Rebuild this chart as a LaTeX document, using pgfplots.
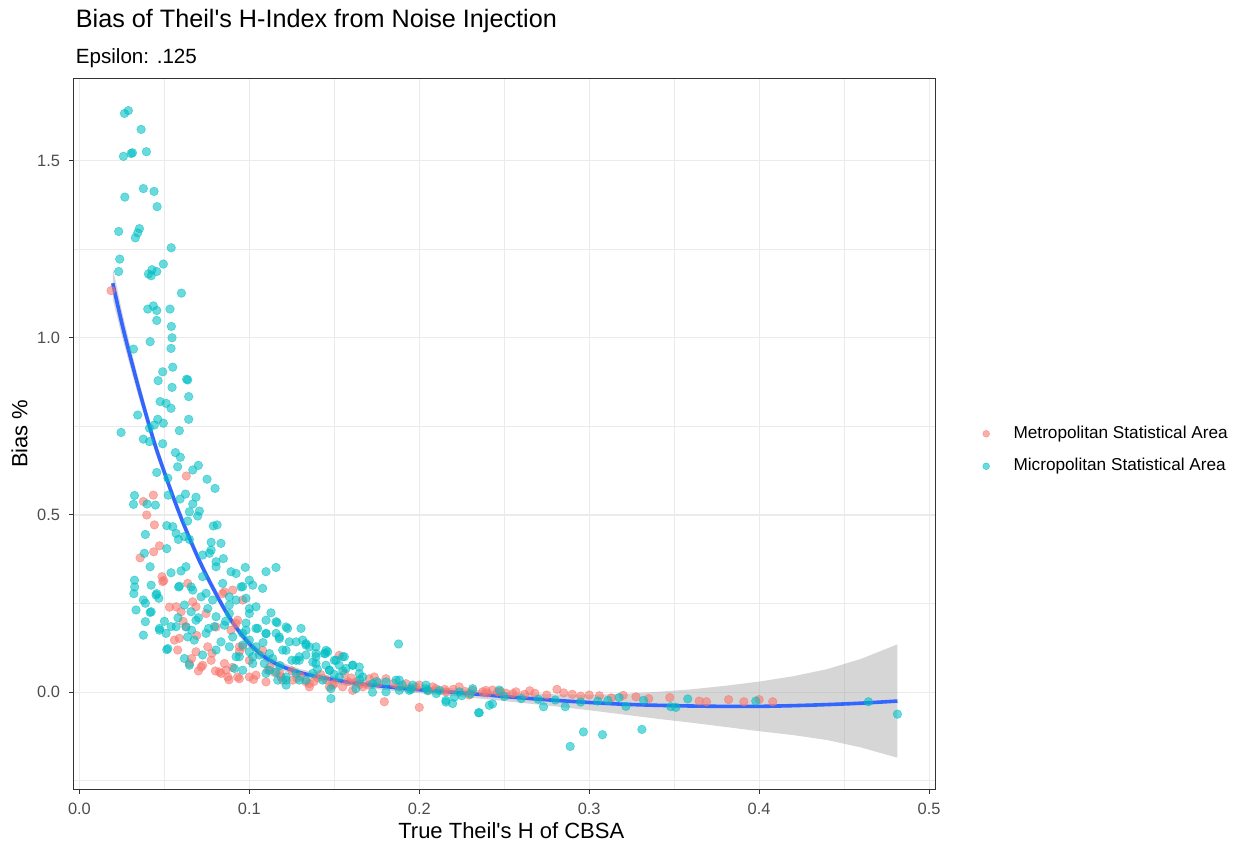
\documentclass[border=0pt]{standalone}
\usepackage{fontspec}
\setmainfont{Liberation Sans}[Ligatures=TeXOff]
\usepackage{pgfplots}
\pgfplotsset{compat=1.18}
\usepackage{pgfplotstable}
\definecolor{metro}{HTML}{F8766D}
\definecolor{micro}{HTML}{00BFC4}
\definecolor{smoothc}{HTML}{3366FF}
\definecolor{gridc}{HTML}{EBEBEB}
\definecolor{tickc}{HTML}{4D4D4D}
\definecolor{borderc}{HTML}{333333}

\pgfplotstableread{
x y
0.0186 1.133
0.0629 0.610
0.0376 0.538
0.0435 0.556
0.0396 0.500
0.0441 0.472
0.0471 0.413
0.0437 0.396
0.0357 0.379
0.0486 0.326
0.0496 0.315
0.0637 0.307
0.0490 0.312
0.0569 0.241
0.0598 0.227
0.0667 0.255
0.0627 0.185
0.0559 0.147
0.0578 0.119
0.0686 0.114
0.0716 0.071
0.0647 0.081
0.0833 0.053
0.0873 0.043
0.0931 0.043
0.0941 0.128
0.1000 0.043
0.1039 0.048
0.1108 0.062
0.1186 0.043
0.1255 0.034
0.1353 0.024
0.1500 0.024
0.1559 0.053
0.0941 0.114
0.0892 0.175
0.0755 0.128
0.0853 0.081
0.0775 0.090
0.0588 0.152
0.0660 0.095
0.0700 0.060
0.0824 0.057
0.0863 0.062
0.0961 0.260
0.0902 0.288
0.0843 0.278
0.0745 0.222
0.0686 0.241
0.0922 0.194
0.0804 0.184
0.0853 0.283
0.0931 0.203
0.0880 0.035
0.0941 0.038
0.1025 0.036
0.1098 0.029
0.1196 0.034
0.1333 0.029
0.1353 0.015
0.1490 0.020
0.1549 0.015
0.1627 0.029
0.1706 0.038
0.1804 0.038
0.1922 0.024
0.2000 0.020
0.2078 0.015
0.2235 0.015
0.2314 0.005
0.2392 0.005
0.2461 0.001
0.1000 0.090
0.1078 0.118
0.0961 0.128
0.0725 0.076
0.1529 0.104
0.1735 0.043
0.1794 -0.027
0.2000 -0.043
0.1882 0.015
0.1980 0.015
0.2098 0.010
0.2157 0.001
0.2294 -0.008
0.2373 0.001
0.2431 0.006
0.2510 -0.003
0.2569 0.001
0.1667 0.015
0.1608 0.005
0.1471 0.015
0.2400 -0.002
0.2480 0.002
0.2550 -0.004
0.2620 -0.006
0.2680 -0.003
0.2750 -0.008
0.2810 0.008
0.2900 -0.006
0.2950 -0.011
0.3000 -0.008
0.3060 -0.010
0.3130 -0.016
0.3200 -0.009
0.3275 -0.013
0.3474 -0.015
0.3647 -0.025
0.3690 -0.027
0.3820 -0.021
0.3910 -0.027
0.4000 -0.021
0.4080 -0.027
0.2650 0.004
0.2850 -0.002
0.3350 -0.018
0.1250 0.060
0.1400 0.040
0.1150 0.055
0.0530 0.240
0.0610 0.200
0.0690 0.160
0.0780 0.110
0.0800 0.060
0.0900 0.070
0.1300 0.045
0.1450 0.035
0.1600 0.040
0.1700 0.020
0.1850 0.025
0.2200 0.008
0.1120 0.070
0.1180 0.052
0.1280 0.040
0.1380 0.030
0.1420 0.050
0.1580 0.030
0.1650 0.022
0.1760 0.026
0.1950 0.012
0.2050 0.006
0.2150 0.008
0.2270 0.002
}\metrotab

\pgfplotstableread{
x y
0.0265 1.633
0.0288 1.641
0.0363 1.588
0.0259 1.512
0.0304 1.520
0.0312 1.522
0.0394 1.525
0.0376 1.421
0.0439 1.413
0.0267 1.397
0.0457 1.370
0.0231 1.300
0.0353 1.308
0.0343 1.296
0.0329 1.282
0.0540 1.254
0.0237 1.222
0.0231 1.187
0.0494 1.208
0.0406 1.180
0.0427 1.192
0.0455 1.187
0.0422 1.175
0.0600 1.126
0.0402 1.081
0.0435 1.090
0.0455 1.077
0.0533 1.081
0.0455 1.049
0.0541 1.032
0.0545 1.000
0.0318 0.968
0.0416 0.989
0.0539 0.970
0.0549 0.917
0.0490 0.904
0.0631 0.883
0.0463 0.879
0.0545 0.860
0.0637 0.881
0.0643 0.834
0.0475 0.820
0.0510 0.815
0.0539 0.801
0.0343 0.782
0.0643 0.770
0.0461 0.770
0.0494 0.759
0.0441 0.754
0.0412 0.745
0.0245 0.733
0.0588 0.738
0.0376 0.714
0.0412 0.707
0.0490 0.701
0.0565 0.676
0.0594 0.663
0.0578 0.636
0.0667 0.627
0.0700 0.640
0.0455 0.620
0.0751 0.601
0.0520 0.604
0.0798 0.575
0.0522 0.556
0.0624 0.559
0.0324 0.555
0.0318 0.530
0.0398 0.531
0.0447 0.528
0.0592 0.545
0.0686 0.550
0.0667 0.531
0.0647 0.509
0.0706 0.511
0.0696 0.497
0.0514 0.470
0.0549 0.467
0.0637 0.483
0.0788 0.469
0.0810 0.472
0.0388 0.445
0.0569 0.448
0.0618 0.439
0.0582 0.431
0.0647 0.431
0.0775 0.423
0.0833 0.420
0.0382 0.392
0.0514 0.405
0.0725 0.387
0.0775 0.401
0.0804 0.368
0.0847 0.377
0.0892 0.340
0.0976 0.352
0.1098 0.340
0.1157 0.352
0.0416 0.354
0.0539 0.337
0.0598 0.342
0.0324 0.316
0.0325 0.297
0.0320 0.278
0.0422 0.302
0.0455 0.278
0.0467 0.265
0.0376 0.260
0.0388 0.251
0.0333 0.232
0.0416 0.225
0.0388 0.199
0.0376 0.161
0.0471 0.180
0.0514 0.120
0.0657 0.297
0.0584 0.297
0.1127 0.224
0.1163 0.196
0.1304 0.180
0.1447 0.109
0.1878 0.136
0.1480 -0.018
0.2349 -0.058
0.2196 -0.032
0.2412 -0.037
0.4814 -0.062
0.4643 -0.027
0.2888 -0.153
0.2966 -0.112
0.3078 -0.120
0.3310 -0.105
0.2353 -0.058
0.2731 -0.041
0.2859 -0.041
0.3176 -0.015
0.3320 -0.023
0.3480 -0.041
0.3510 -0.043
0.3580 -0.019
0.3980 -0.025
0.3216 -0.040
0.3110 -0.023
0.0588 0.299
0.0667 0.288
0.0716 0.269
0.0451 0.274
0.0422 0.227
0.0618 0.246
0.0657 0.227
0.0755 0.236
0.0804 0.213
0.0882 0.246
0.0922 0.260
0.0980 0.265
0.1000 0.236
0.0951 0.297
0.1020 0.302
0.1078 0.293
0.1157 0.199
0.0471 0.175
0.0510 0.166
0.0569 0.185
0.0637 0.156
0.0676 0.147
0.0745 0.166
0.0794 0.185
0.0853 0.189
0.0902 0.156
0.0980 0.175
0.1039 0.180
0.1098 0.166
0.1176 0.156
0.1235 0.142
0.1333 0.137
0.1392 0.128
0.1461 0.114
0.1510 0.090
0.1559 0.100
0.0520 0.123
0.0618 0.095
0.0647 0.076
0.0725 0.105
0.0804 0.119
0.0833 0.142
0.0882 0.128
0.0922 0.100
0.1000 0.114
0.1059 0.105
0.1088 0.081
0.1137 0.095
0.1196 0.119
0.1275 0.090
0.1333 0.105
0.1392 0.081
0.1471 0.062
0.1529 0.043
0.1569 0.067
0.0912 0.067
0.0961 0.062
0.1020 0.081
0.1098 0.053
0.1157 0.057
0.1216 0.034
0.1275 0.053
0.1333 0.034
0.1431 0.034
0.1480 0.010
0.1216 0.020
0.1167 0.034
0.1441 0.109
0.1500 0.090
0.1608 0.076
0.1647 0.052
0.1471 0.062
0.1667 0.043
0.1863 0.034
0.2039 0.020
0.2157 -0.023
0.2471 0.006
0.1804 0.001
0.1941 0.005
0.2235 0.001
0.2314 0.010
0.0765 0.392
0.0804 0.354
0.0922 0.335
0.0961 0.298
0.1000 0.316
0.0882 0.269
0.1039 0.241
0.1098 0.203
0.1157 0.166
0.1216 0.184
0.1314 0.147
0.1353 0.128
0.1392 0.100
0.1294 0.100
0.1118 0.109
0.1039 0.128
0.0961 0.166
0.1000 0.222
0.0882 0.222
0.0784 0.260
0.0745 0.279
0.0686 0.203
0.0627 0.184
0.0843 0.307
0.0725 0.326
0.0627 0.354
0.1275 0.142
0.1333 0.133
0.1392 0.109
0.1451 0.118
0.1549 0.100
0.1608 0.076
0.1647 0.071
0.1529 0.076
0.1451 0.076
0.1373 0.085
0.1294 0.090
0.1216 0.118
0.1176 0.151
0.1225 0.180
0.1098 0.165
0.1049 0.180
0.1000 0.147
0.0961 0.133
0.0941 0.100
0.1020 0.100
0.1118 0.062
0.1216 0.043
0.1294 0.034
0.1373 0.053
0.1725 0.024
0.1804 0.029
0.1882 0.034
0.1961 0.020
0.2039 0.010
0.2118 0.005
0.1882 0.005
0.1725 0.000
0.1627 0.010
0.2157 -0.028
0.2206 -0.014
0.2431 -0.033
0.1550 0.060
0.1650 0.035
0.1750 0.030
0.1900 0.020
0.1950 0.008
0.2050 0.004
0.2100 -0.004
0.2250 -0.010
0.2300 -0.005
0.2500 -0.012
0.2600 -0.018
0.2700 -0.020
0.2800 -0.022
0.2950 -0.028
0.3050 -0.025
0.1400 0.065
0.1500 0.050
0.1250 0.090
0.1180 0.075
0.1080 0.140
0.0980 0.195
0.0860 0.200
0.0760 0.180
0.0700 0.210
0.0660 0.175
0.0580 0.210
0.0540 0.185
0.0500 0.200
}\microtab

\pgfplotstableread{
x y
0.0196 1.154
0.025 1.040
0.030 0.945
0.035 0.855
0.040 0.770
0.045 0.690
0.050 0.620
0.055 0.553
0.060 0.490
0.065 0.432
0.070 0.377
0.075 0.327
0.080 0.281
0.085 0.237
0.090 0.198
0.095 0.165
0.100 0.137
0.105 0.114
0.110 0.096
0.115 0.082
0.120 0.071
0.130 0.055
0.140 0.044
0.150 0.035
0.160 0.027
0.170 0.021
0.180 0.016
0.190 0.011
0.200 0.007
0.220 0.000
0.240 -0.008
0.260 -0.016
0.280 -0.023
0.300 -0.029
0.320 -0.034
0.340 -0.037
0.360 -0.039
0.380 -0.040
0.400 -0.040
0.420 -0.038
0.440 -0.035
0.460 -0.031
0.4814 -0.025
}\smoothtab

\begin{document}
\begin{tikzpicture}
\begin{axis}[
  name=ax, at={(0,0)}, anchor=south west,
  scale only axis, width=430.75pt, height=355.65pt,
  xmin=-0.0035, xmax=0.5035, ymin=-0.274, ymax=1.733,
  xtick={0,0.1,0.2,0.3,0.4,0.5}, ytick={0,0.5,1,1.5},
  minor xtick={0.05,0.15,0.25,0.35,0.45},
  minor ytick={-0.25,0.25,0.75,1.25},
  grid=both,
  major grid style={gridc, line width=0.55pt},
  minor grid style={gridc, line width=0.3pt},
  axis line style={borderc, line width=0.5pt},
  tick align=outside, major tick length=2.2pt, minor tick length=0pt,
  tick style={borderc, line width=0.5pt},
  xtick pos=bottom, ytick pos=left,
  tick label style={font=\fontsize{8.2}{9}\selectfont, color=tickc},
  xticklabel style={/pgf/number format/fixed, /pgf/number format/fixed zerofill, /pgf/number format/precision=1, /pgf/number format/assume math mode=true, yshift=-1pt},
  yticklabel style={/pgf/number format/fixed, /pgf/number format/fixed zerofill, /pgf/number format/precision=1, /pgf/number format/assume math mode=true, xshift=-1pt},
  xlabel={True Theil's H of CBSA},
  ylabel={Bias \%},
  xlabel style={font=\fontsize{11}{13}\selectfont, at={(axis description cs:0.5,-0.0689)}, anchor=base, inner sep=0pt, xshift=3.5pt},
  ylabel style={font=\fontsize{11}{13}\selectfont, at={(axis description cs:-0.0536,0.5)}, anchor=base, inner sep=0pt},
  legend style={at={(axis description cs:1.055,0.477)}, anchor=west, draw=none, fill=none,
    font=\fontsize{8.6}{10}\selectfont, row sep=6.5pt, column sep=11pt, inner sep=0pt,
    nodes={inner sep=1pt}},
  legend cell align=left,
  legend image code/.code={\draw[mark size=1.7pt] plot coordinates {(0.15cm,0cm)};},
  clip=true,
]
\addplot[only marks, mark=*, mark size=2.15pt, draw=metro, fill=metro, draw opacity=0.55, fill opacity=0.58, line width=0.3pt] table[x=x,y=y] {\metrotab};
\addlegendentry{Metropolitan Statistical Area}
\addplot[only marks, mark=*, mark size=2.15pt, draw=micro, fill=micro, draw opacity=0.55, fill opacity=0.58, line width=0.3pt] table[x=x,y=y] {\microtab};
\addlegendentry{Micropolitan Statistical Area}
\addplot[draw=none, fill=black!40, fill opacity=0.4, forget plot] coordinates {
(0.0196,1.199)(0.025,1.076)(0.030,0.974)(0.035,0.879)(0.040,0.790)(0.045,0.708)(0.050,0.636)(0.055,0.568)(0.060,0.504)(0.065,0.446)(0.070,0.390)(0.075,0.340)(0.080,0.294)(0.085,0.249)(0.090,0.210)(0.095,0.177)(0.100,0.149)(0.105,0.125)(0.110,0.107)(0.115,0.093)(0.120,0.082)(0.130,0.065)(0.140,0.054)(0.150,0.045)(0.160,0.037)(0.170,0.031)(0.180,0.026)(0.190,0.021)(0.200,0.017)(0.220,0.011)(0.240,0.004)(0.260,-0.002)(0.280,-0.006)(0.300,-0.007)(0.320,-0.005)(0.340,0.001)(0.360,0.008)(0.380,0.018)(0.400,0.030)(0.420,0.045)(0.440,0.065)(0.460,0.094)(0.4814,0.135)
(0.4814,-0.185)(0.460,-0.156)(0.440,-0.135)(0.420,-0.121)(0.400,-0.110)(0.380,-0.098)(0.360,-0.086)(0.340,-0.075)(0.320,-0.063)(0.300,-0.051)(0.280,-0.040)(0.260,-0.030)(0.240,-0.020)(0.220,-0.011)(0.200,-0.003)(0.190,0.001)(0.180,0.006)(0.170,0.011)(0.160,0.017)(0.150,0.025)(0.140,0.034)(0.130,0.045)(0.120,0.060)(0.115,0.071)(0.110,0.085)(0.105,0.103)(0.100,0.125)(0.095,0.153)(0.090,0.186)(0.085,0.225)(0.080,0.268)(0.075,0.314)(0.070,0.364)(0.065,0.418)(0.060,0.476)(0.055,0.538)(0.050,0.604)(0.045,0.672)(0.040,0.750)(0.035,0.831)(0.030,0.916)(0.025,1.004)(0.0196,1.109)
} --cycle;
\addplot[smoothc, line width=1.8pt, smooth, forget plot] table[x=x,y=y] {\smoothtab};
\end{axis}
\node[anchor=base west, inner sep=0pt, font=\fontsize{12.6}{15}\selectfont, xshift=1pt] at ([yshift=25.5pt]ax.north west) {Bias of Theil's H-Index from Noise Injection};
\node[anchor=base west, inner sep=0pt, font=\fontsize{10.3}{12}\selectfont, xshift=1pt] at ([yshift=7.5pt]ax.north west) {Epsilon: .125};
\pgfresetboundingbox
\path (ax.south west) ++(-36.75pt,-26.35pt) rectangle ++(619.5pt,421pt);
\end{tikzpicture}
\end{document}
